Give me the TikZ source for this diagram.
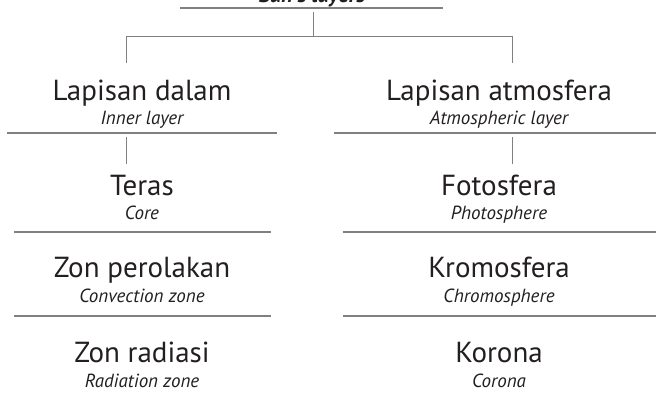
\documentclass[tikz,border=0pt]{standalone}
\usepackage{fontspec}
\setmainfont{PT Sans}
\usepackage{tikz}

\definecolor{rulegray}{HTML}{808080}
\definecolor{inkdark}{HTML}{231F20}

\begin{document}
\begin{tikzpicture}[x=1pt,y=-1pt,
  malay/.style={anchor=base,inner sep=0pt,text=inkdark,font=\fontsize{29}{32}\selectfont},
  eng/.style={anchor=base,inner sep=0pt,text=inkdark,font=\fontsize{19}{22}\selectfont\itshape},
  rule/.style={draw=rulegray,line width=1.4pt},
  link/.style={draw=rulegray,line width=1pt}]
\useasboundingbox (0,0) rectangle (656,394);
% title, cut at the top
\node[anchor=base,inner sep=0pt,text=inkdark,font=\fontsize{22}{24}\selectfont\bfseries\itshape] (sun) at (312,2) {Sun's layers};
\draw[rule] (180,8) -- (443,8);
\coordinate (stemtop) at (313,12);
\coordinate (stembot) at (313,36);
\coordinate (inbr) at (126,36);
\coordinate (atbr) at (512,36);
\coordinate (inend) at (126,63);
\coordinate (atend) at (512,63);
\draw[link] (stemtop) -- (stembot);
\draw[link] (inend) -- (inbr) -- (atbr) -- (atend);

% left column
\node[malay] (inner) at (142,100) {Lapisan dalam};
\node[eng] (innerE) at (142,124) {Inner layer};
\draw[rule] (7,133) -- (277,133);
\coordinate (inA) at (126,137);
\coordinate (inB) at (126,164);
\draw[link] (inA) -- (inB);
\node[malay] (core) at (142,195) {Teras};
\node[eng] (coreE) at (142,219) {Core};
\draw[rule] (14,232) -- (271,232);
\node[malay] (conv) at (142,277) {Zon perolakan};
\node[eng] (convE) at (142,302) {Convection zone};
\draw[rule] (14,316) -- (271,316);
\node[malay] (rad) at (142,362) {Zon radiasi};
\node[eng] (radE) at (142,387) {Radiation zone};

% right column
\node[malay] (atmo) at (499,100) {Lapisan atmosfera};
\node[eng] (atmoE) at (499,124) {Atmospheric layer};
\draw[rule] (334,133) -- (660,133);
\coordinate (atA) at (512,137);
\coordinate (atB) at (512,164);
\draw[link] (atA) -- (atB);
\node[malay] (photo) at (499,195) {Fotosfera};
\node[eng] (photoE) at (499,219) {Photosphere};
\draw[rule] (343,232) -- (660,232);
\node[malay] (chromo) at (499,277) {Kromosfera};
\node[eng] (chromoE) at (499,302) {Chromosphere};
\draw[rule] (343,316) -- (660,316);
\node[malay] (corona) at (499,362) {Korona};
\node[eng] (coronaE) at (499,387) {Corona};
\end{tikzpicture}
\end{document}
